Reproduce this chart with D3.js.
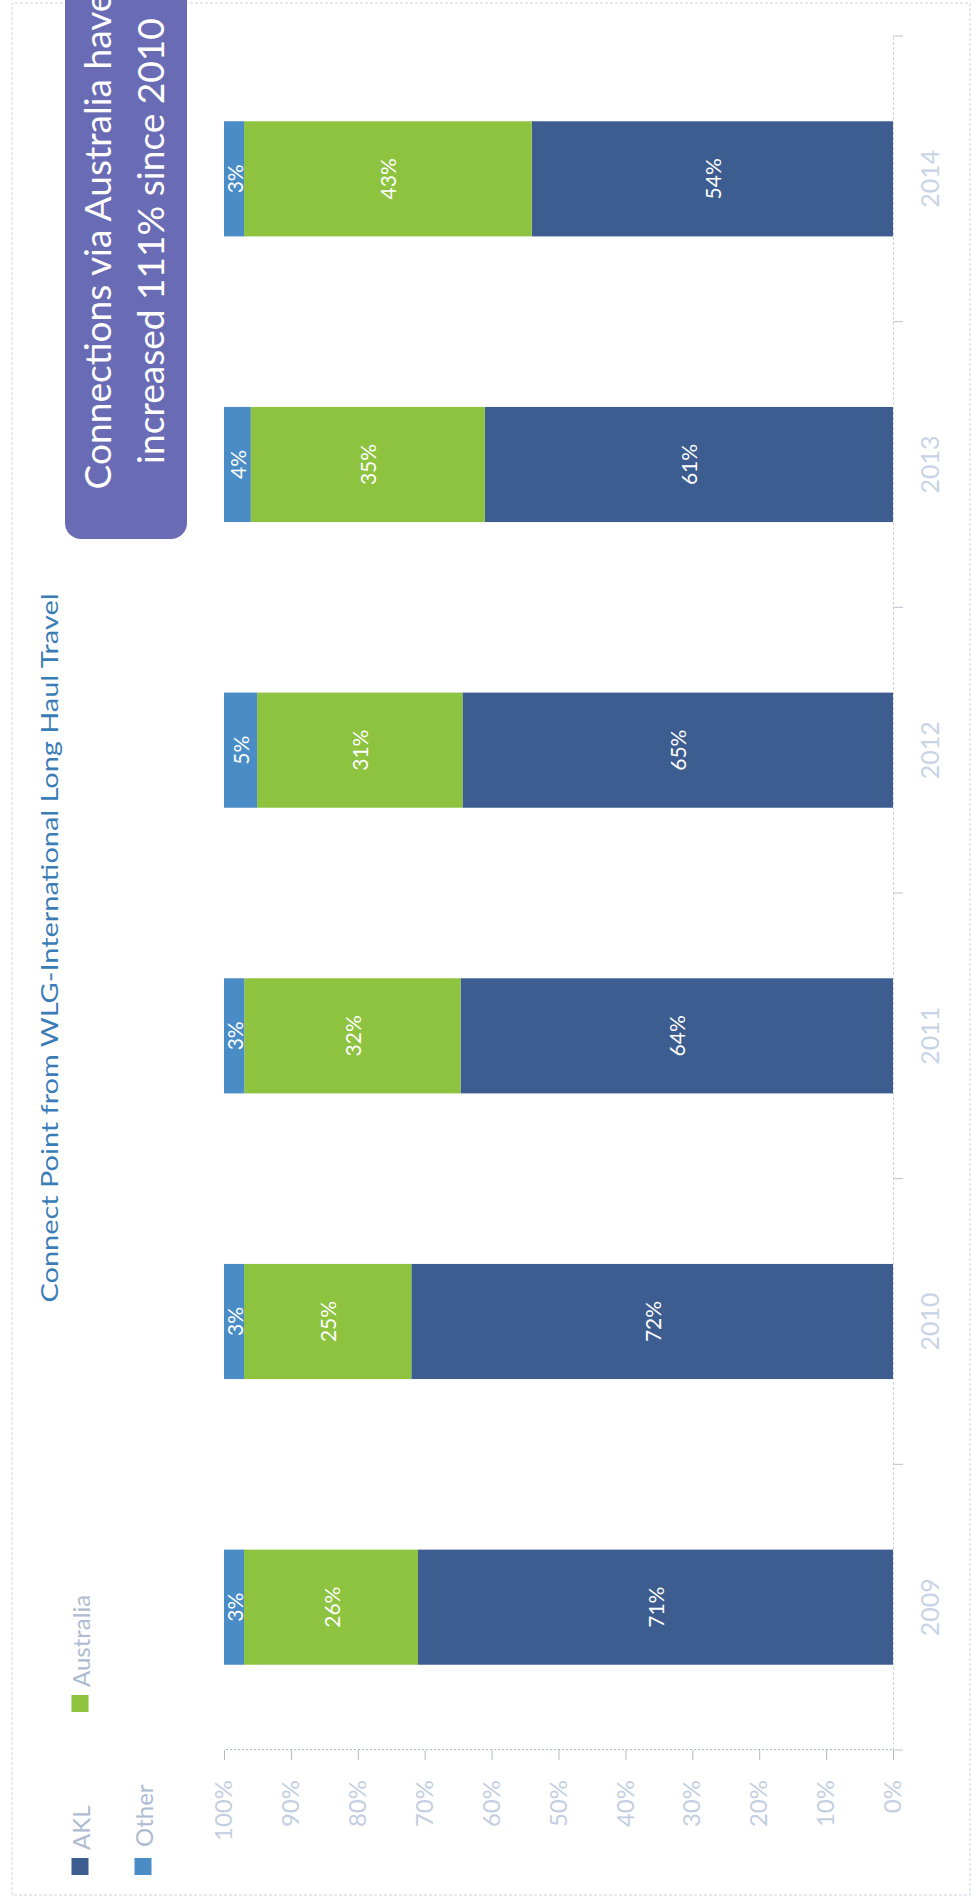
<!DOCTYPE html>
<html><head><meta charset="utf-8">
<script src="https://cdn.jsdelivr.net/npm/d3@7"></script>
<style>body{margin:0;background:#fff} svg{display:block}</style>
</head><body>
<script>
// ---- data ----
const years = ["2009", "2010", "2011", "2012", "2013", "2014"];
const akl = [71, 72, 64, 65, 61, 54];
const australia = [26, 25, 32, 31, 35, 43];
const other = [3, 3, 3, 5, 4, 3];
const seriesNames = ["AKL", "Australia", "Other"];
const valueTicks = [0, 0.1, 0.2, 0.3, 0.4, 0.5, 0.6, 0.7, 0.8, 0.9, 1];
const titleText = "Connect Point from WLG-International Long Haul Travel";
const noteLines = ["Connections via Australia have", "increased 111% since 2010"];
const legendItems = ["AKL", "Other", "Australia"];

const colors = { AKL: "#3d5d90", Australia: "#8dc33f", Other: "#4a8dc6" };
const FONT = "Lato, 'Open Sans', sans-serif";

const W = 978, H = 1900;
const svg = d3.select("body").append("svg").attr("width", W).attr("height", H);
svg.append("rect").attr("width", W).attr("height", H).attr("fill", "#fff");
// chart is drawn in its natural orientation then rotated 90° counter-clockwise
const g = svg.append("g").attr("transform", `translate(0,${H}) rotate(-90)`);

// outer frame
g.append("rect").attr("x", 5).attr("y", 12).attr("width", 1892).attr("height", 958)
  .attr("fill", "none").attr("stroke", "#cdd5e1").attr("stroke-dasharray", "3,2").attr("stroke-width", 1);

const rows = years.map((yr, i) => ({ year: yr, AKL: akl[i], Australia: australia[i], Other: other[i] }));
const stacked = d3.stack().keys(seriesNames).offset(d3.stackOffsetExpand)(rows);

const x = d3.scaleBand().domain(years).range([150, 1864]).paddingInner(0.597).paddingOuter(0.2985);
const y = d3.scaleLinear().domain([0, 1]).range([893, 224]);

// bars
const layer = g.selectAll("g.layer").data(stacked).join("g").attr("class", "layer")
  .attr("fill", d => colors[d.key]);
layer.selectAll("rect").data(d => d).join("rect")
  .attr("x", d => x(d.data.year))
  .attr("width", x.bandwidth())
  .attr("y", d => y(d[1]))
  .attr("height", d => y(d[0]) - y(d[1]));

// labels in bars
stacked.forEach(s => {
  g.selectAll(null).data(s).join("text")
    .attr("x", d => x(d.data.year) + x.bandwidth() / 2)
    .attr("y", d => (y(d[0]) + y(d[1])) / 2)
    .attr("text-anchor", "middle").attr("dominant-baseline", "central")
    .attr("font-family", FONT).attr("font-size", 21).attr("fill", "#fff")
    .text(d => d.data[s.key] + "%");
});

// value axis
const yAxis = g.append("g").attr("transform", "translate(150,0)")
  .call(d3.axisLeft(y).tickValues(valueTicks).tickFormat(d3.format(".0%")).tickSize(10).tickPadding(20));
yAxis.select(".domain").attr("stroke", "#b3b9c4").attr("stroke-dasharray", "2,2");
yAxis.selectAll(".tick line").attr("stroke", "#b3b9c4");
yAxis.selectAll("text").attr("font-family", FONT).attr("font-size", 24).attr("fill", "#c3cee0");

// category axis
const xAxis = g.append("g").attr("transform", "translate(0,893)")
  .call(d3.axisBottom(x).tickSize(0).tickPadding(28).tickSizeOuter(0));
xAxis.select(".domain").attr("stroke", "#bcc2cc").attr("stroke-dasharray", "2,3");
xAxis.selectAll("text").attr("font-family", FONT).attr("font-size", 25).attr("fill", "#c8d4e6");
const gap = (x.step() - x.bandwidth()) / 2;
const bounds = years.map(d => x(d) - gap).concat([x(years[years.length - 1]) + x.bandwidth() + gap]);
xAxis.selectAll("line.sep").data(bounds).join("line").attr("class", "sep")
  .attr("x1", d => d).attr("x2", d => d).attr("y1", 0).attr("y2", 10)
  .attr("stroke", "#bcc2cc");

// title
g.append("text").attr("x", 952).attr("y", 48)
  .attr("text-anchor", "middle").attr("dominant-baseline", "central")
  .attr("font-family", FONT).attr("font-size", 24).attr("fill", "#3a7db6")
  .attr("textLength", 709).attr("lengthAdjust", "spacingAndGlyphs")
  .text(titleText);

// callout box
g.append("rect").attr("x", 1361).attr("y", 65).attr("width", 640).attr("height", 122)
  .attr("rx", 16).attr("fill", "#6a6bb5");
const probe = g.append("text").attr("font-family", FONT).attr("font-size", 33).text(noteLines[1]);
const fs = 33 * 446 / probe.node().getComputedTextLength();
probe.remove();
g.selectAll("text.note").data(noteLines).join("text").attr("class", "note")
  .attr("x", 1659).attr("y", (d, i) => 111 + i * 53)
  .attr("text-anchor", "middle")
  .attr("font-family", FONT).attr("font-size", fs).attr("fill", "#fff")
  .text(d => d);

// legend
const legendPos = [
  { name: "AKL", sx: 25, cy: 80, tx: 50 },
  { name: "Other", sx: 25, cy: 143, tx: 53 },
  { name: "Australia", sx: 188, cy: 80, tx: 213 }
];
const lg = g.selectAll("g.leg").data(legendPos).join("g").attr("class", "leg");
lg.append("rect").attr("x", d => d.sx).attr("y", d => d.cy - 8.5).attr("width", 17).attr("height", 17)
  .attr("fill", d => colors[d.name]);
lg.append("text").attr("x", d => d.tx).attr("y", d => d.cy)
  .attr("dominant-baseline", "central").attr("font-family", FONT).attr("font-size", 24)
  .attr("fill", "#aebbd0").text(d => d.name);
</script>
</body></html>
